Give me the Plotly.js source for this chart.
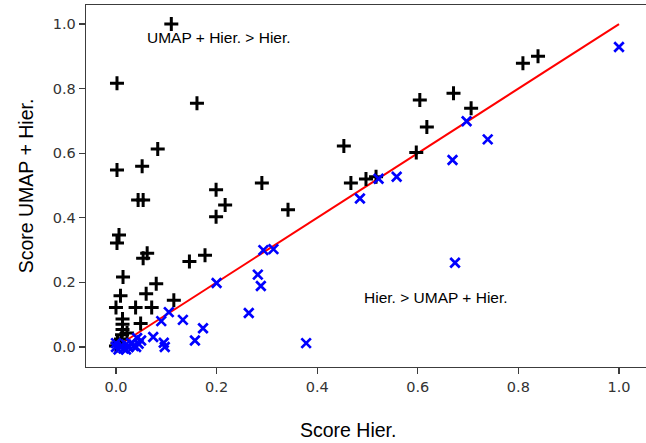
<!DOCTYPE html>
<html>
<head>
<meta charset="utf-8">
<script src="https://cdn.plot.ly/plotly-3.0.1.min.js"></script>
<style>
html, body { margin: 0; padding: 0; overflow: hidden; background: #fff; }
#chart { width: 652px; height: 443px; }
</style>
</head>
<body>
<div id="chart"></div>
<script>
// Points where UMAP + Hier. scores higher (black plus)
const umapBetterX = [0.11, 0.002, 0.161, 0.083, 0.052, 0.002, 0.29, 0.199, 0.044, 0.054,
  0.217, 0.199, 0.342, 0.006, 0.002, 0.062, 0.054, 0.177, 0.146, 0.014,
  0.08, 0.009, 0.06, 0.115, 0.0, 0.039, 0.071, 0.049, 0.013, 0.013,
  0.013, 0.012, 0.01, 0.022, 0.003, 0.0, 0.453, 0.604, 0.671, 0.706,
  0.618, 0.597, 0.467, 0.497, 0.517, 0.809, 0.839];
const umapBetterY = [1.0, 0.817, 0.755, 0.613, 0.56, 0.548, 0.508, 0.487, 0.455, 0.455,
  0.44, 0.403, 0.425, 0.347, 0.322, 0.29, 0.275, 0.284, 0.265, 0.217,
  0.196, 0.159, 0.165, 0.145, 0.122, 0.122, 0.122, 0.073, 0.087, 0.07,
  0.054, 0.038, 0.025, 0.043, 0.012, 0.003, 0.622, 0.765, 0.786, 0.739,
  0.681, 0.602, 0.508, 0.52, 0.527, 0.879, 0.9];

// Points where Hier. scores higher (blue x)
const hierBetterX = [1.0, 0.697, 0.739, 0.669, 0.558, 0.522, 0.485, 0.674, 0.378, 0.293,
  0.313, 0.282, 0.288, 0.264, 0.2, 0.173, 0.157, 0.133, 0.105, 0.09,
  0.095, 0.097, 0.0, 0.005, 0.01, 0.015, 0.02, 0.025, 0.03, 0.035,
  0.042, 0.045, 0.05, 0.0, 0.02, 0.074, 0.04];
const hierBetterY = [0.929, 0.699, 0.643, 0.579, 0.527, 0.521, 0.46, 0.261, 0.012, 0.3,
  0.303, 0.224, 0.189, 0.105, 0.198, 0.058, 0.02, 0.084, 0.108, 0.08,
  0.013, 0.0, 0.0, -0.008, 0.003, -0.005, 0.008, 0.0, 0.012, 0.003,
  0.028, 0.01, 0.02, 0.012, -0.008, 0.031, 0.0];

// Identity line
const diagX = [0, 1];
const diagY = [0, 1];

const tickVals = [0, 0.2, 0.4, 0.6, 0.8, 1.0];
const tickText = ['0.0', '0.2', '0.4', '0.6', '0.8', '1.0'];

const xTitle = 'Score Hier.';
const yTitle = 'Score UMAP + Hier.';
const noteUpper = 'UMAP + Hier. > Hier.';
const noteLower = 'Hier. > UMAP + Hier.';

const traces = [
  { x: diagX, y: diagY, type: 'scatter', mode: 'lines',
    line: { color: '#ff0000', width: 2 }, hoverinfo: 'skip' },
  { x: umapBetterX, y: umapBetterY, type: 'scatter', mode: 'markers',
    marker: { symbol: 'cross-thin', size: 10, color: '#000000',
              line: { color: '#000000', width: 3 } } },
  { x: hierBetterX, y: hierBetterY, type: 'scatter', mode: 'markers',
    marker: { symbol: 'x-thin', size: 9.5, color: '#0000ff',
              line: { color: '#0000ff', width: 2.7 } } }
];

const tickFont = { family: 'DejaVu Sans', size: 14.5, color: '#333333' };
const titleFont = { family: 'Liberation Sans, Arial, sans-serif', size: 19.5, color: '#000000' };
const noteFont = { family: 'Liberation Sans, Arial, sans-serif', size: 15.5, color: '#000000' };

const axisCommon = {
  showgrid: false, zeroline: false,
  showline: true, linecolor: '#3c3c3c', linewidth: 1.3, mirror: true,
  ticks: 'outside', ticklen: 6, tickwidth: 1.2, tickcolor: '#3c3c3c',
  tickvals: tickVals, ticktext: tickText, tickfont: tickFont
};

const layout = {
  width: 652, height: 443,
  margin: { l: 86, r: 0, t: 5, b: 76 },
  paper_bgcolor: '#ffffff', plot_bgcolor: '#ffffff',
  showlegend: false,
  xaxis: Object.assign({}, axisCommon, {
    range: [-0.0596, 1.0656]
  }),
  yaxis: Object.assign({}, axisCommon, {
    range: [-0.062, 1.059],
    title: { text: yTitle, font: titleFont, standoff: 14 }
  }),
  annotations: [
    { x: 0.463, y: -0.174, xref: 'paper', yref: 'paper', text: xTitle, showarrow: false,
      xanchor: 'center', yanchor: 'middle', font: titleFont },
    { x: 0.058, y: 0.958, xref: 'x', yref: 'y', text: noteUpper, showarrow: false,
      xanchor: 'left', yanchor: 'middle', font: noteFont },
    { x: 0.489, y: 0.152, xref: 'x', yref: 'y', text: noteLower, showarrow: false,
      xanchor: 'left', yanchor: 'middle', font: noteFont }
  ]
};

Plotly.newPlot('chart', traces, layout, { staticPlot: true, displayModeBar: false });
</script>
</body>
</html>
